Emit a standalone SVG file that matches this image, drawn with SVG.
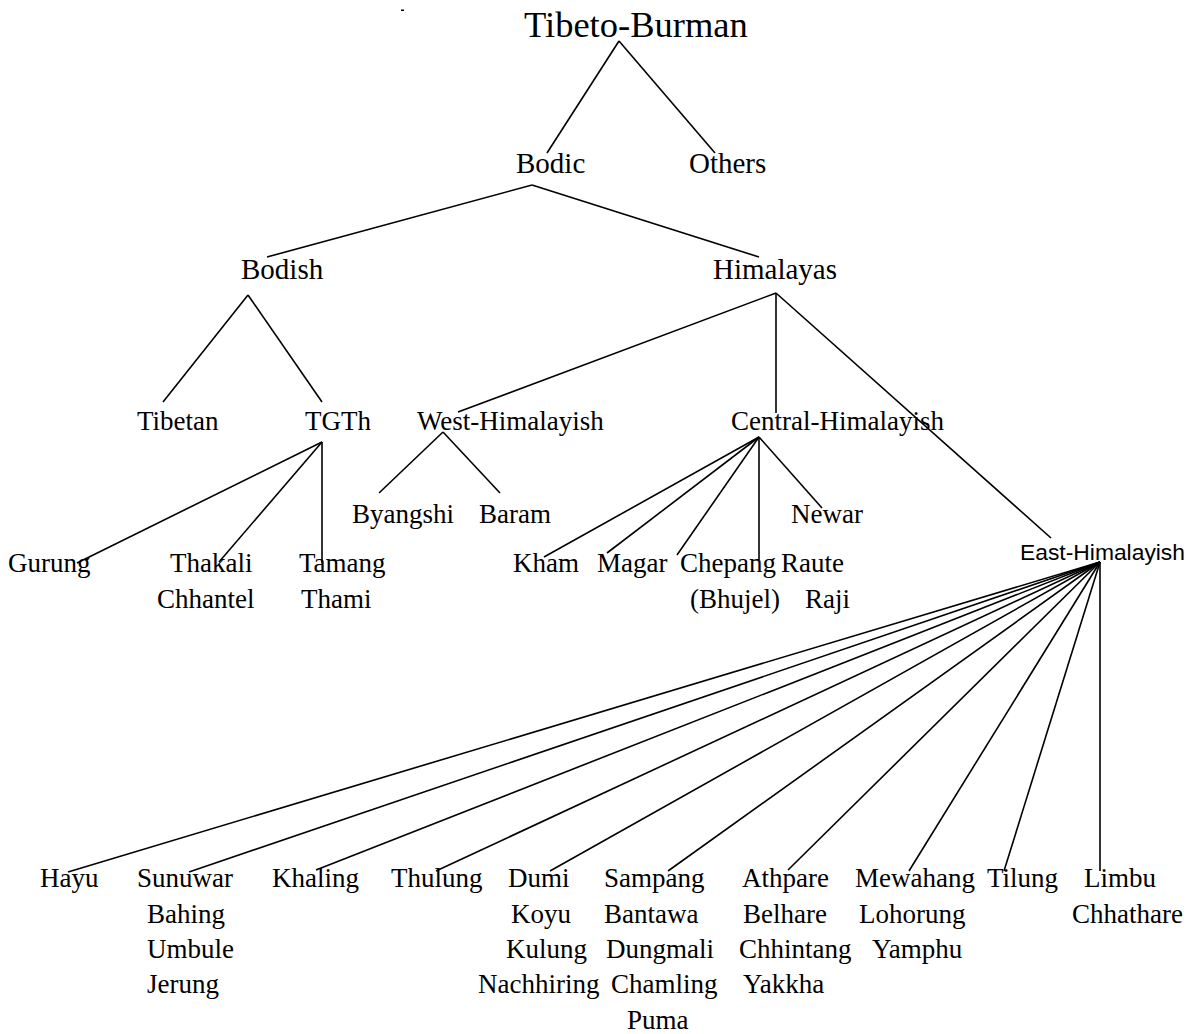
<svg xmlns="http://www.w3.org/2000/svg" width="1195" height="1034" viewBox="0 0 1195 1034">
<style>
text{font-family:"Liberation Serif","Times New Roman",serif;font-size:27px;fill:#000}
.t{font-size:36.5px}
.l2{font-size:29px}
.s{font-family:"Liberation Sans",Arial,sans-serif;font-size:22.5px}
#connectors line{stroke:#000;stroke-width:1.6;stroke-linecap:butt}
</style>
<rect width="1195" height="1034" fill="#fff"/>
<rect x="401" y="9.5" width="3" height="1.5" fill="#000"/>
<g id="connectors">
<line x1="619" y1="41" x2="547" y2="153"/>
<line x1="619" y1="41" x2="715" y2="153"/>
<line x1="532" y1="185" x2="267" y2="257"/>
<line x1="532" y1="185" x2="759" y2="257"/>
<line x1="248" y1="295" x2="163" y2="402"/>
<line x1="248" y1="295" x2="322" y2="402"/>
<line x1="776" y1="293" x2="458" y2="412"/>
<line x1="776" y1="293" x2="776" y2="413"/>
<line x1="776" y1="293" x2="1051" y2="538"/>
<line x1="322" y1="442" x2="77" y2="563"/>
<line x1="322" y1="442" x2="219" y2="562"/>
<line x1="322" y1="442" x2="322" y2="563"/>
<line x1="443" y1="432" x2="379" y2="493"/>
<line x1="443" y1="432" x2="500" y2="493"/>
<line x1="759" y1="437" x2="544" y2="557"/>
<line x1="759" y1="437" x2="607" y2="553"/>
<line x1="759" y1="437" x2="677" y2="555"/>
<line x1="759" y1="437" x2="759" y2="560"/>
<line x1="759" y1="437" x2="822" y2="508"/>
<line x1="1100" y1="562" x2="68" y2="872"/>
<line x1="1100" y1="562" x2="189" y2="872"/>
<line x1="1100" y1="562" x2="316" y2="870"/>
<line x1="1100" y1="562" x2="436" y2="871"/>
<line x1="1100" y1="562" x2="550" y2="871"/>
<line x1="1100" y1="562" x2="668" y2="871"/>
<line x1="1100" y1="562" x2="788" y2="870"/>
<line x1="1100" y1="562" x2="909" y2="871"/>
<line x1="1100" y1="562" x2="1004" y2="871"/>
<line x1="1100" y1="562" x2="1100" y2="871"/>
</g>
<g id="n-tibeto-burman"><text class="t" x="524" y="37">Tibeto-Burman</text></g>
<g id="n-bodic"><text class="l2" x="516" y="173">Bodic</text></g>
<g id="n-others"><text class="l2" x="689" y="173">Others</text></g>
<g id="n-bodish"><text class="l2" x="241" y="279">Bodish</text></g>
<g id="n-himalayas"><text class="l2" x="713" y="279">Himalayas</text></g>
<g id="n-tibetan"><text x="137" y="430">Tibetan</text></g>
<g id="n-tgth"><text x="305" y="430">TGTh</text></g>
<g id="n-west"><text x="417" y="430">West-Himalayish</text></g>
<g id="n-central"><text x="731" y="430">Central-Himalayish</text></g>
<g id="n-byangshi"><text x="352" y="523">Byangshi</text></g>
<g id="n-baram"><text x="479" y="523">Baram</text></g>
<g id="n-newar"><text x="791" y="523">Newar</text></g>
<g id="n-gurung"><text x="8" y="572">Gurung</text></g>
<g id="n-thakali"><text x="170" y="572">Thakali</text><text x="157" y="608">Chhantel</text></g>
<g id="n-tamang"><text x="299" y="572">Tamang</text><text x="301" y="608">Thami</text></g>
<g id="n-kham"><text x="513" y="572">Kham</text></g>
<g id="n-magar"><text x="597" y="572">Magar</text></g>
<g id="n-chepang"><text x="680" y="572">Chepang</text><text x="690" y="608">(Bhujel)</text></g>
<g id="n-raute"><text x="781" y="572">Raute</text><text x="805" y="608">Raji</text></g>
<g id="n-east"><text class="s" x="1020" y="559.5" textLength="165" lengthAdjust="spacingAndGlyphs">East-Himalayish</text></g>
<g id="n-hayu"><text x="40" y="887">Hayu</text></g>
<g id="n-sunuwar"><text x="137" y="887">Sunuwar</text><text x="147" y="923">Bahing</text><text x="147" y="958">Umbule</text><text x="147" y="993">Jerung</text></g>
<g id="n-khaling"><text x="272" y="887">Khaling</text></g>
<g id="n-thulung"><text x="391" y="887">Thulung</text></g>
<g id="n-dumi"><text x="508" y="887">Dumi</text><text x="511" y="923">Koyu</text><text x="506" y="958">Kulung</text><text x="478" y="993">Nachhiring</text></g>
<g id="n-sampang"><text x="604" y="887">Sampang</text><text x="604" y="923">Bantawa</text><text x="606" y="958">Dungmali</text><text x="611" y="993">Chamling</text><text x="627" y="1029">Puma</text></g>
<g id="n-athpare"><text x="742" y="887">Athpare</text><text x="743" y="923">Belhare</text><text x="739" y="958">Chhintang</text><text x="743" y="993">Yakkha</text></g>
<g id="n-mewahang"><text x="855" y="887">Mewahang</text><text x="859" y="923">Lohorung</text><text x="872" y="958">Yamphu</text></g>
<g id="n-tilung"><text x="987" y="887">Tilung</text></g>
<g id="n-limbu"><text x="1084" y="887">Limbu</text><text x="1072" y="923">Chhathare</text></g>
</svg>
